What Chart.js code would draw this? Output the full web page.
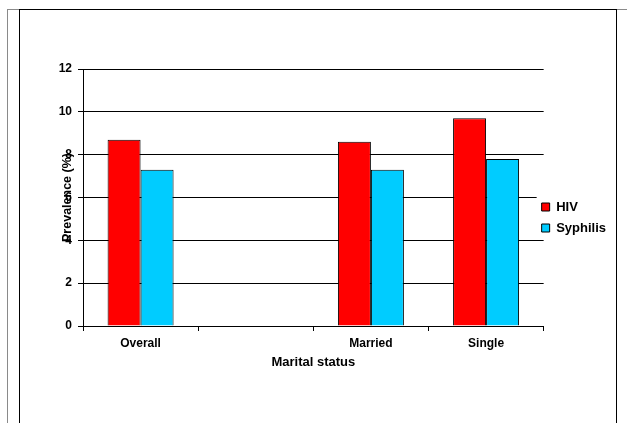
<!DOCTYPE html>
<html>
<head>
<meta charset="utf-8">
<script src="https://cdn.jsdelivr.net/npm/chart.js@4/dist/chart.umd.min.js"></script>
<style>
  html, body { margin: 0; padding: 0; background: #fff; overflow: hidden; }
  #wrap { position: relative; width: 627px; height: 423px; }
  #frameGray { position: absolute; left: 7px; top: 9px; width: 700px; height: 600px;
    border-left: 1px solid #8a8a8a; border-top: 1px solid #8a8a8a; }
  #frameBlack { position: absolute; left: 19px; top: 9px; width: 596px; height: 600px;
    border-left: 1px solid #000; border-top: 1px solid #000; border-right: 1px solid #000; }
  canvas { position: absolute; left: 0; top: 0; }
</style>
</head>
<body>
<div id="wrap">
  <div id="frameGray"></div>
  <div id="frameBlack"></div>
  <canvas id="c" width="627" height="423"></canvas>
</div>
<script>
const categories = ['Overall', '', 'Married', 'Single'];
const seriesNames = ['HIV', 'Syphilis'];
const hivValues = [8.7, null, 8.6, 9.7];
const syphilisValues = [7.3, null, 7.3, 7.8];
const xTitle = 'Marital status';
const yTitle = 'Prevalence (%)';
const yMin = 0, yMax = 12, yStep = 2;

const FONT = "'Liberation Sans', Arial, sans-serif";

const legendTweak = {
  id: 'legendTweak',
  afterLayout(chart) {
    const lg = chart.legend;
    if (!lg) return;
    lg.left -= 10; lg.right -= 10;
    lg.top -= 2; lg.bottom -= 2;
  },
  beforeDatasetsDraw(chart) {
    const lg = chart.legend;
    if (!lg) return;
    const pad = lg.options.labels.padding;
    const colH = (lg.columnSizes && lg.columnSizes[0]) ? lg.columnSizes[0].height : 42;
    const y0 = (lg.top + pad + lg.bottom - colH) / 2;
    const ctx = chart.ctx;
    ctx.save();
    ctx.fillStyle = '#fff';
    ctx.fillRect(lg.left + pad - 5, y0 - 4, lg.right - (lg.left + pad - 5), colH - 3);
    ctx.restore();
    lg.draw();
  }
};

new Chart(document.getElementById('c'), {
  type: 'bar',
  data: {
    labels: categories,
    datasets: [
      { label: seriesNames[0], data: hivValues, backgroundColor: '#FF0000', borderColor: '#000', borderWidth: 1 },
      { label: seriesNames[1], data: syphilisValues, backgroundColor: '#00CCFF', borderColor: '#000', borderWidth: 1 }
    ]
  },
  options: {
    responsive: false,
    animation: false,
    devicePixelRatio: 1,
    layout: { padding: { left: 20, top: 69, right: 1, bottom: 53 } },
    datasets: { bar: { categoryPercentage: 0.573, barPercentage: 1.0 } },
    plugins: {
      tooltip: { enabled: false },
      legend: {
        position: 'right',
        align: 'center',
        labels: {
          boxWidth: 8, boxHeight: 8, padding: 8, color: '#000',
          font: { family: FONT, size: 13, weight: 'bold' }
        }
      }
    },
    scales: {
      x: {
        offset: true,
        grid: { offset: true, drawOnChartArea: false, drawTicks: true, tickLength: 5, color: '#000', lineWidth: 1 },
        border: { display: true, color: '#000', width: 1 },
        ticks: { color: '#000', padding: 5, maxRotation: 0, autoSkip: false, font: { family: FONT, size: 12, weight: 'bold' } },
        title: { display: true, text: xTitle, color: '#000', padding: { top: 4, bottom: 0 }, font: { family: FONT, size: 13, weight: 'bold' } },
        afterFit(s) { s.height = 44; }
      },
      y: {
        min: yMin, max: yMax,
        grid: { color: '#000', lineWidth: 1, drawTicks: true, tickLength: 5 },
        border: { display: true, color: '#000', width: 1 },
        ticks: { stepSize: yStep, color: '#000', padding: 6, font: { family: FONT, size: 12, weight: 'bold' } },
        title: { display: true, text: yTitle, color: '#000', padding: { top: 40, bottom: 0 }, font: { family: FONT, size: 12.5, weight: 'bold' } },
        afterFit(s) { s.width = 63; }
      }
    }
  },
  plugins: [legendTweak]
});
</script>
</body>
</html>
